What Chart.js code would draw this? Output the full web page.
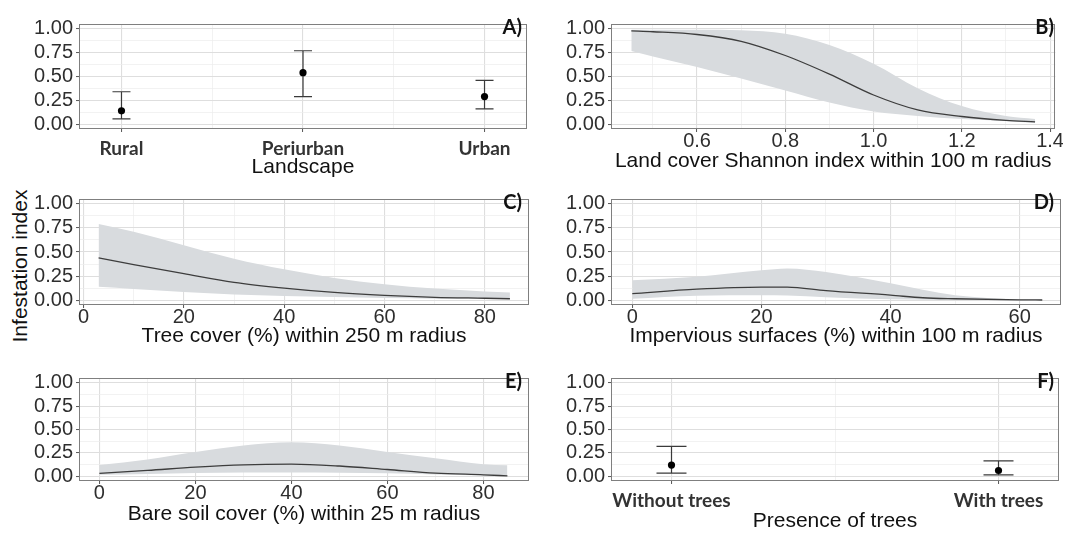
<!DOCTYPE html>
<html><head><meta charset="utf-8">
<script src="https://cdn.jsdelivr.net/npm/chart.js@4.4.1/dist/chart.umd.min.js"></script>
<style>
html,body{margin:0;padding:0;background:#fff;}
body{width:1072px;height:533px;position:relative;overflow:hidden;}
canvas{position:absolute;}
.plab{position:absolute;font-family:Lato,"Open Sans",sans-serif;font-weight:700;font-size:20px;line-height:20px;color:#111;white-space:nowrap;}
#ytitle{position:absolute;left:20px;top:266px;transform:translate(-50%,-50%) rotate(-90deg);font-family:"Liberation Sans",Arial,sans-serif;font-size:21px;color:#111;white-space:nowrap;}
</style></head><body>
<div id="ytitle">Infestation index</div>
<script>
// ---------- data ----------
const yMajorStep = 0.25;

const landscapeCats = ['Rural', 'Periurban', 'Urban'];
const landscapeFit  = [0.14, 0.54, 0.29];
const landscapeLow  = [0.056, 0.29, 0.16];
const landscapeHigh = [0.34, 0.77, 0.46];

const shannonX    = [0.451, 0.5, 0.6, 0.7, 0.8, 0.9, 1.0, 1.1, 1.2, 1.3, 1.366];
const shannonFit  = [0.978, 0.969, 0.94, 0.869, 0.72, 0.525, 0.306, 0.15, 0.081, 0.04, 0.025];
const shannonHigh = [0.99, 0.99, 0.99, 0.985, 0.947, 0.83, 0.634, 0.378, 0.19, 0.0875, 0.056];
const shannonLow  = [0.766, 0.71, 0.6, 0.478, 0.353, 0.228, 0.134, 0.0875, 0.056, 0.034, 0.013];

const treeX    = [3, 10, 20, 30, 40, 50, 60, 70, 80, 85];
const treeFit  = [0.44, 0.37, 0.275, 0.185, 0.125, 0.08, 0.05, 0.03, 0.02, 0.015];
const treeHigh = [0.79, 0.71, 0.57, 0.43, 0.32, 0.23, 0.165, 0.12, 0.09, 0.08];
const treeLow  = [0.14, 0.117, 0.085, 0.06, 0.044, 0.032, 0.022, 0.016, 0.011, 0.009];

const impX    = [0, 10, 20, 24, 30, 40, 45, 50, 60, 63.5];
const impFit  = [0.068, 0.114, 0.136, 0.136, 0.099, 0.052, 0.025, 0.015, 0.004, 0.002];
const impHigh = [0.207, 0.244, 0.31, 0.33, 0.293, 0.176, 0.108, 0.052, 0.008, 0.004];
const impLow  = [0.015, 0.046, 0.052, 0.049, 0.031, 0.009, 0.004, 0.001, 0.0, 0.0];

const soilX    = [0, 10, 20, 30, 40, 50, 60, 70, 80, 85];
const soilFit  = [0.032, 0.063, 0.098, 0.123, 0.13, 0.11, 0.073, 0.035, 0.016, 0.005];
const soilHigh = [0.12, 0.18, 0.26, 0.33, 0.364, 0.33, 0.26, 0.193, 0.13, 0.117];
const soilLow  = [0.016, 0.025, 0.035, 0.04, 0.041, 0.038, 0.032, 0.02, 0.01, 0.003];

const treesCats = ['Without trees', 'With trees'];
const treesFit  = [0.12, 0.062];
const treesLow  = [0.034, 0.015];
const treesHigh = [0.32, 0.164];

const panelLetters = ['A)', 'B)', 'C)', 'D)', 'E)', 'F)'];
const xTitles = ['Landscape', 'Land cover Shannon index within 100 m radius',
  'Tree cover (%) within 250 m radius', 'Impervious surfaces (%) within 100 m radius',
  'Bare soil cover (%) within 25 m radius', 'Presence of trees'];

// ---------- layout / style ----------
Chart.defaults.font.family = "'Liberation Sans', Arial, sans-serif";
const COLS = [{left: 79, w: 450}, {left: 611, w: 450}];
const ROWS = [{top: 11, h: 118, hx: 42.5, hxCat: 48.5}, {top: 186, h: 119, hx: 41.5}, {top: 365, h: 116, hx: 43.5, hxCat: 50.5}];
const YW = 52;
const GRID_MAJOR = '#dedede', GRID_MINOR = '#ececec';
const TICK_COLOR = '#2e2e2e';
const BAND = '#d8dbde', LINE = '#3d3d3d';

const near = (a, b) => Math.abs(a - b) < 1e-6;
const isMult = (v, m) => near(v / m, Math.round(v / m));

const frame = {
  id: 'frame',
  afterDraw(chart) {
    const a = chart.chartArea, ctx = chart.ctx;
    ctx.save();
    ctx.strokeStyle = '#7f7f7f';
    ctx.lineWidth = 1;
    ctx.strokeRect(Math.round(a.left) + 0.5, Math.round(a.top) + 0.5,
      Math.round(a.right - a.left) - 1, Math.round(a.bottom - a.top) - 1);
    ctx.restore();
  }
};

const errorBars = {
  id: 'errorBars',
  beforeDatasetsDraw(chart, args, o) {
    if (!o || !o.low) return;
    const xs = chart.scales.x, ys = chart.scales.y, ctx = chart.ctx;
    ctx.save();
    ctx.strokeStyle = o.color;
    ctx.lineWidth = o.width;
    o.low.forEach((lo, i) => {
      const x = xs.getPixelForValue(i + 1);
      const y1 = ys.getPixelForValue(lo), y2 = ys.getPixelForValue(o.high[i]);
      ctx.beginPath();
      ctx.moveTo(x, y1); ctx.lineTo(x, y2);
      ctx.moveTo(x - o.cap, y1); ctx.lineTo(x + o.cap, y1);
      ctx.moveTo(x - o.cap, y2); ctx.lineTo(x + o.cap, y2);
      ctx.stroke();
    });
    ctx.restore();
  }
};

function gridOpts(isMajor) {
  return {
    color: c => (c.tick && isMajor(c.tick.value)) ? GRID_MAJOR : GRID_MINOR,
    lineWidth: c => (c.tick && isMajor(c.tick.value)) ? 1.1 : 0.7,
    drawTicks: true, tickLength: 3, tickWidth: 1,
    tickColor: c => (c.tick && isMajor(c.tick.value)) ? '#555' : 'rgba(0,0,0,0)'
  };
}

function yScale() {
  const isMajor = v => isMult(v, yMajorStep);
  return {
    type: 'linear', min: -0.05, max: 1.05,
    afterFit: s => { s.width = YW; },
    ticks: {stepSize: 0.125, includeBounds: false, autoSkip: false, padding: 3,
      color: TICK_COLOR, font: {size: 20}, callback: v => isMajor(v) ? v.toFixed(2) : ''},
    grid: gridOpts(isMajor),
    border: {display: false}
  };
}

function xScale(o) {
  return {
    type: 'linear', min: o.min, max: o.max,
    afterFit: s => { s.height = o.hx; },
    ticks: {stepSize: o.step, includeBounds: false, autoSkip: false, maxRotation: 0, minRotation: 0,
      padding: o.pad, color: o.tickColor || TICK_COLOR, font: o.font, callback: v => o.isMajor(v) ? o.fmt(v) : ''},
    grid: gridOpts(o.isMajor),
    border: {display: false},
    title: {display: true, text: o.title, color: '#111', font: {size: 21, lineHeight: 1}, padding: 0}
  };
}

function makeCanvas(col, row, hx) {
  const C = COLS[col], R = ROWS[row];
  const c = document.createElement('canvas');
  const w = YW + C.w + 2, h = Math.ceil(2 + R.h + hx);
  c.width = w; c.height = h;
  c.style.width = w + 'px'; c.style.height = h + 'px';
  c.style.left = (C.left - YW) + 'px'; c.style.top = (R.top - 2) + 'px';
  document.body.appendChild(c);
  return c;
}

function addLabel(idx, col, row) {
  const C = COLS[col], R = ROWS[row];
  const d = document.createElement('div');
  d.className = 'plab';
  d.textContent = panelLetters[idx];
  d.style.right = (1072 - (C.left + C.w - 7)) + 'px';
  d.style.top = (R.top + (0.14 / 1.1) * R.h - 10) + 'px';
  document.body.appendChild(d);
}

const baseOpts = (xs, bottomPad) => ({
  responsive: false, animation: false, events: [],
  layout: {padding: {top: 2, right: 2, left: 0, bottom: bottomPad}},
  plugins: {legend: {display: false}, tooltip: {enabled: false}},
  scales: {x: xs, y: yScale()}
});

const toXY = (xs, ys) => xs.map((x, i) => ({x, y: ys[i]}));

function curvePanel(idx, col, row, xs, fit, lo, hi, xo) {
  const R = ROWS[row];
  const canvas = makeCanvas(col, row, R.hx);
  const pad = canvas.height - (2 + R.h + R.hx);
  const opts = baseOpts(xScale(Object.assign({hx: R.hx, pad: -1, font: {size: 20, lineHeight: 1}, title: xTitles[idx]}, xo)), pad);
  new Chart(canvas, {
    type: 'line',
    data: {datasets: [
      {data: toXY(xs, fit), borderColor: LINE, borderWidth: 1.3, pointRadius: 0, fill: false, cubicInterpolationMode: 'monotone'},
      {data: toXY(xs, hi), borderColor: 'rgba(0,0,0,0)', borderWidth: 0, pointRadius: 0, backgroundColor: BAND, fill: '+1', cubicInterpolationMode: 'monotone'},
      {data: toXY(xs, lo), borderColor: 'rgba(0,0,0,0)', borderWidth: 0, pointRadius: 0, fill: false, cubicInterpolationMode: 'monotone'}
    ]},
    options: opts,
    plugins: [frame]
  });
  addLabel(idx, col, row);
}

function catPanel(idx, col, row, cats, fit, lo, hi, xmin, xmax, cap) {
  const R = ROWS[row];
  const canvas = makeCanvas(col, row, R.hxCat);
  const pad = canvas.height - (2 + R.h + R.hxCat);
  const xs = xScale({min: xmin, max: xmax, step: 0.5, hx: R.hxCat, pad: 7,
    font: {family: "Lato, 'Open Sans', sans-serif", weight: 'bold', size: 19, lineHeight: 1}, tickColor: '#333',
    isMajor: v => Number.isInteger(v), fmt: v => cats[v - 1], title: xTitles[idx]});
  const opts = baseOpts(xs, pad);
  opts.plugins.errorBars = {low: lo, high: hi, cap: cap, color: '#3a3a3a', width: 1.2};
  new Chart(canvas, {
    type: 'scatter',
    data: {datasets: [{data: fit.map((v, i) => ({x: i + 1, y: v})), pointRadius: 3.6,
      backgroundColor: '#000', borderColor: '#000', borderWidth: 0}]},
    options: opts,
    plugins: [frame, errorBars]
  });
  addLabel(idx, col, row);
}

catPanel(0, 0, 0, landscapeCats, landscapeFit, landscapeLow, landscapeHigh, 0.766, 3.234, 9);
curvePanel(1, 1, 0, shannonX, shannonFit, shannonLow, shannonHigh,
  {min: 0.405, max: 1.412, step: 0.1, isMajor: v => isMult(v, 0.2), fmt: v => v.toFixed(1)});
curvePanel(2, 0, 1, treeX, treeFit, treeLow, treeHigh,
  {min: -0.9, max: 88.8, step: 10, isMajor: v => isMult(v, 20), fmt: v => String(v)});
curvePanel(3, 1, 1, impX, impFit, impLow, impHigh,
  {min: -3.3, max: 66.4, step: 10, isMajor: v => isMult(v, 20), fmt: v => String(v)});
curvePanel(4, 0, 2, soilX, soilFit, soilLow, soilHigh,
  {min: -4.25, max: 89.5, step: 10, isMajor: v => isMult(v, 20), fmt: v => String(v)});
catPanel(5, 1, 2, treesCats, treesFit, treesLow, treesHigh, 0.815, 2.185, 15);
</script>
</body></html>
